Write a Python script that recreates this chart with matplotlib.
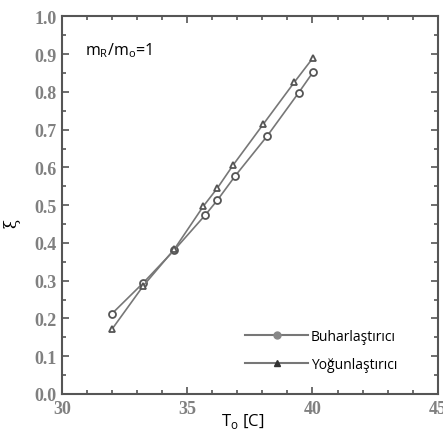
import matplotlib.pyplot as plt
from matplotlib.lines import Line2D
from matplotlib.ticker import MultipleLocator

# data
t_buhar = [32.0, 33.24, 34.48, 35.72, 36.2, 36.92, 38.19, 39.45, 40.03]
xi_buhar = [0.213, 0.294, 0.381, 0.474, 0.513, 0.578, 0.683, 0.798, 0.853]
t_yogun = [32.0, 33.24, 34.48, 35.64, 36.2, 36.83, 38.03, 39.28, 40.03]
xi_yogun = [0.172, 0.286, 0.383, 0.497, 0.545, 0.606, 0.714, 0.826, 0.891]
series_labels = ["Buharlaştırıcı", "Yoğunlaştırıcı"]

# tick numbers are in a Times-like face
plt.rcParams["font.family"] = ["Liberation Serif", "DejaVu Serif"]

line_col = "#777777"
axis_col = "#555555"
tick_col = "#808080"

fig = plt.figure(figsize=(4.43, 4.35), dpi=100)
ax = fig.add_axes([0.14, 0.092, 0.848, 0.868])

ax.plot(t_buhar, xi_buhar, color=line_col, lw=1.2, marker="o", ms=5,
        mfc="white", mec="#555555", mew=1.3)
ax.plot(t_yogun, xi_yogun, color=line_col, lw=1.2, marker="^", ms=5,
        mfc="white", mec="#555555", mew=1.3)

ax.set_xlim(30, 45)
ax.set_ylim(0, 1.0)
ax.xaxis.set_major_locator(MultipleLocator(5))
ax.xaxis.set_minor_locator(MultipleLocator(1))
ax.yaxis.set_major_locator(MultipleLocator(0.1))
ax.yaxis.set_minor_locator(MultipleLocator(0.05))
ax.xaxis.set_major_formatter(plt.FuncFormatter(lambda v, p: f"{v:.0f}"))
ax.yaxis.set_major_formatter(plt.FuncFormatter(lambda v, p: f"{v:.1f}"))
ax.tick_params(which="both", direction="in", color=axis_col, width=1.2,
               top=True, right=True, labelcolor=tick_col)
ax.tick_params(which="major", length=5, labelsize=13, pad=4)
ax.tick_params(which="minor", length=3)
for lab in ax.get_xticklabels() + ax.get_yticklabels():
    lab.set_fontweight("bold")
for s in ax.spines.values():
    s.set_color(axis_col)
    s.set_linewidth(1.5)

ax.set_xlabel("T$_\\mathregular{o}$ [C]", family="Open Sans", fontsize=12)
ax.xaxis.set_label_coords(0.48, -0.045)
ax.set_ylabel("ξ", family="DejaVu Serif", fontsize=12)
ax.yaxis.set_label_coords(-0.11, 0.455)

ax.text(0.06, 0.9, "m$_\\mathregular{R}$/m$_\\mathregular{o}$=1",
        transform=ax.transAxes, family="Open Sans", fontsize=11.5)

handles = [
    Line2D([], [], color=line_col, lw=1.5, marker="o", ms=5,
           mfc="#888888", mec="#888888"),
    Line2D([], [], color=line_col, lw=1.5, marker="^", ms=5,
           mfc="#333333", mec="#333333"),
]
ax.legend(handles, series_labels, loc="lower right", frameon=False,
          prop={"family": "Open Sans", "size": 10}, handlelength=4.5,
          handletextpad=0.2, labelspacing=0.9,
          bbox_to_anchor=(0.925, 0.026))

fig.savefig("out.png", dpi=100)
